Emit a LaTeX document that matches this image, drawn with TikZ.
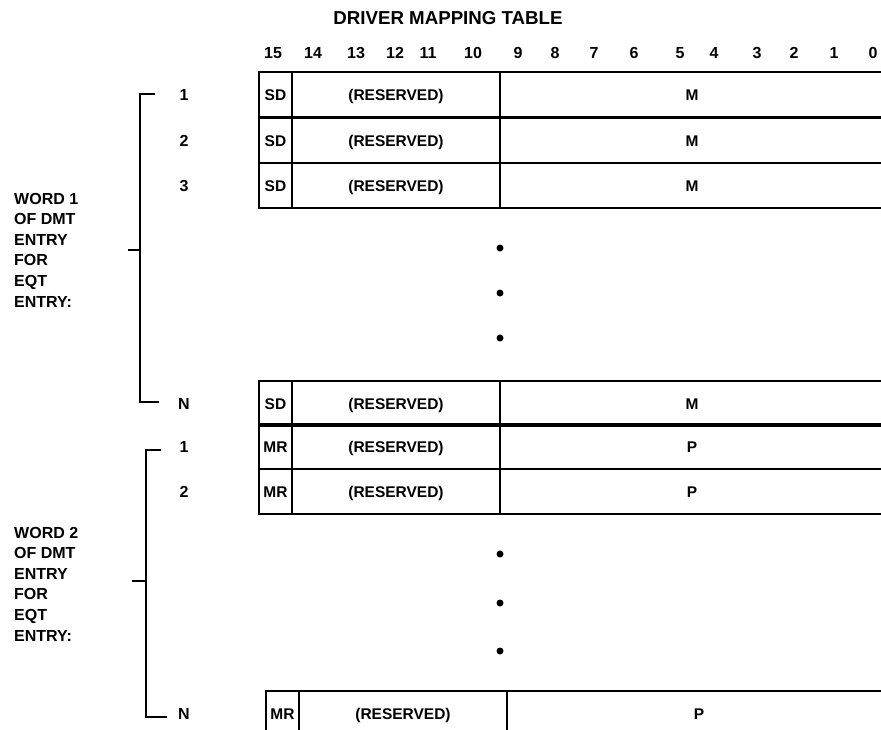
\documentclass[tikz,border=0pt]{standalone}
\usepackage{fontspec}
\setmainfont{Liberation Sans}
\usepackage{tikz}
\usetikzlibrary{positioning}

\begin{document}
\begin{tikzpicture}[x=1pt, y=-1pt,
        cell/.style={draw, line width=1.4pt, minimum height=45pt, inner sep=0pt,
            outer sep=0pt, anchor=north west, text height=11pt, text depth=0pt,
            font=\bfseries\fontsize{15.5}{17}\selectfont},
        rowno/.style={font=\bfseries\fontsize{16}{18}\selectfont},
        wordtext/.style={align=left, anchor=west, inner sep=0pt,
            font=\bfseries\fontsize{16}{20.6}\selectfont},
        bracket/.style={line width=1.3pt},
        dot/.style={circle, fill, inner sep=0pt, minimum size=7pt}]
    \useasboundingbox (0,0) rectangle (881,729);
    \clip (0,0) rectangle (881,729);

    \node [font=\bfseries\fontsize{18.7}{21}\selectfont] (title) at (448,18) {DRIVER MAPPING TABLE};
    \foreach \b/\x in {15/273, 14/313, 13/356, 12/395, 11/428, 10/473, 9/518, 8/555,
                       7/594, 6/634, 5/680, 4/714, 3/757, 2/794, 1/834, 0/873}
        \node [rowno] (bit\b) at (\x,53) {\b};

    % rows: name / top / shift / flag / field / label
    \foreach \r/\y/\dx/\f/\v/\n in {ra/72/0/SD/M/1, rb/118/0/SD/M/2, rc/163/0/SD/M/3,
                                    rn/381/0/SD/M/N, pa/424/0/MR/P/1, pb/469/0/MR/P/2,
                                    pn/691/7/MR/P/N} {
        \node [cell, minimum width=33pt] (\r f) at (259+\dx,\y) {\f};
        \node [cell, minimum width=208pt] (\r r) at (\r f.north east) {(RESERVED)};
        \node [cell, minimum width=384pt] (\r m) at (\r r.north east) {\v};
        \node [rowno] (\r no) at (184,\y+22.5) {\n};
    }

    % continuation dots
    \node [dot] (dota1) at (500,248) {};
    \node [dot] (dota2) at (500,293) {};
    \node [dot] (dota3) at (500,338) {};
    \node [dot] (dotb1) at (500,554) {};
    \node [dot] (dotb2) at (500,603) {};
    \node [dot] (dotb3) at (500,651) {};

    % word 1 bracket
    \coordinate (w1top) at (140,94);
    \coordinate (w1mid) at (140,250);
    \coordinate (w1bot) at (140,402);
    \draw [bracket] ([xshift=15pt]w1top) -- (w1top) -- (w1bot) -- ([xshift=19pt]w1bot);
    \draw [bracket] ([xshift=-12pt]w1mid) -- (w1mid);
    \node [wordtext] (word1) at (14,250) {WORD 1\\OF DMT\\ENTRY\\FOR\\EQT\\ENTRY:};

    % word 2 bracket
    \coordinate (w2top) at (146,450);
    \coordinate (w2mid) at (146,581);
    \coordinate (w2bot) at (146,717);
    \draw [bracket] ([xshift=15pt]w2top) -- (w2top) -- (w2bot) -- ([xshift=21pt]w2bot);
    \draw [bracket] ([xshift=-14pt]w2mid) -- (w2mid);
    \node [wordtext] (word2) at (14,584) {WORD 2\\OF DMT\\ENTRY\\FOR\\EQT\\ENTRY:};
\end{tikzpicture}
\end{document}
